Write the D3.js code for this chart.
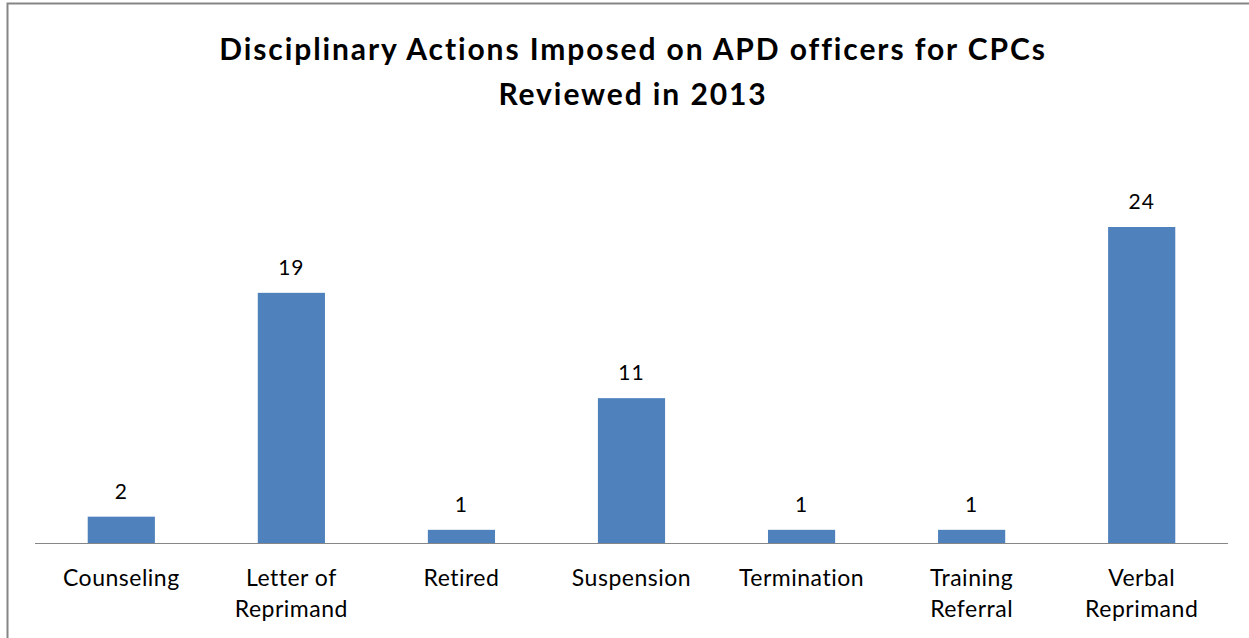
<!DOCTYPE html>
<html>
<head>
<meta charset="utf-8">
<script src="https://cdn.jsdelivr.net/npm/d3@7"></script>
<style>
  body { margin: 0; background: #fff; }
  svg text { font-family: Lato, "Liberation Sans", sans-serif; fill: #000; }
</style>
</head>
<body>
<div id="chart"></div>
<script>
// data
var categories = ["Counseling", "Letter of Reprimand", "Retired", "Suspension", "Termination", "Training Referral", "Verbal Reprimand"];
var catLines = [["Counseling"], ["Letter of", "Reprimand"], ["Retired"], ["Suspension"], ["Termination"], ["Training", "Referral"], ["Verbal", "Reprimand"]];
var counts = [2, 19, 1, 11, 1, 1, 24];
var titleLines = ["Disciplinary Actions Imposed on APD officers for CPCs", "Reviewed in 2013"];

var width = 1249, height = 638;
var margin = {left: 35, right: 21, top: 227, bottom: 95};

var svg = d3.select("#chart").append("svg")
  .attr("width", width)
  .attr("height", height);

// chart border (right and bottom edges fall outside the picture)
svg.append("rect")
  .attr("x", 7.5).attr("y", 3.5)
  .attr("width", 1260).attr("height", 660)
  .attr("fill", "none")
  .attr("stroke", "#868686")
  .attr("stroke-width", 2);

var x = d3.scaleBand()
  .domain(categories)
  .range([margin.left, width - margin.right])
  .paddingInner(0.605)
  .paddingOuter(0.31);

var y = d3.scaleLinear()
  .domain([0, 24])
  .range([height - margin.bottom, margin.top]);

var base = y(0);

// title
svg.append("text")
  .attr("text-anchor", "middle")
  .style("font-weight", "bold")
  .style("font-size", "30px")
  .style("letter-spacing", "1.9px")
  .selectAll("tspan")
  .data(titleLines)
  .enter().append("tspan")
  .attr("x", 633)
  .attr("y", function(d, i) { return 60 + i * 45; })
  .text(function(d) { return d; });

// bars
svg.selectAll(".bar")
  .data(counts)
  .enter().append("rect")
  .attr("class", "bar")
  .attr("x", function(d, i) { return x(categories[i]); })
  .attr("y", function(d) { return y(d); })
  .attr("width", x.bandwidth())
  .attr("height", function(d) { return base - y(d); })
  .attr("fill", "#4f81bd");

// baseline
svg.append("line")
  .attr("x1", margin.left).attr("x2", width - margin.right)
  .attr("y1", base + 0.5).attr("y2", base + 0.5)
  .attr("stroke", "#868686")
  .attr("stroke-width", 1);

// value labels
svg.selectAll(".val")
  .data(counts)
  .enter().append("text")
  .attr("class", "val")
  .attr("text-anchor", "middle")
  .attr("x", function(d, i) { return x(categories[i]) + x.bandwidth() / 2; })
  .attr("y", function(d) { return y(d) - 18; })
  .style("font-size", "21px")
  .style("letter-spacing", "1px")
  .text(function(d) { return d; });

// category labels
var cat = svg.selectAll(".cat")
  .data(categories)
  .enter().append("text")
  .attr("class", "cat")
  .attr("text-anchor", "middle")
  .style("font-size", "23px")
  .style("letter-spacing", "0.5px");

cat.selectAll("tspan")
  .data(function(d, i) { return catLines[i].map(function(t) { return {t: t, c: d}; }); })
  .enter().append("tspan")
  .attr("x", function(d) { return x(d.c) + x.bandwidth() / 2; })
  .attr("y", function(d, i) { return base + 43 + i * 31; })
  .text(function(d) { return d.t; });
</script>
</body>
</html>
